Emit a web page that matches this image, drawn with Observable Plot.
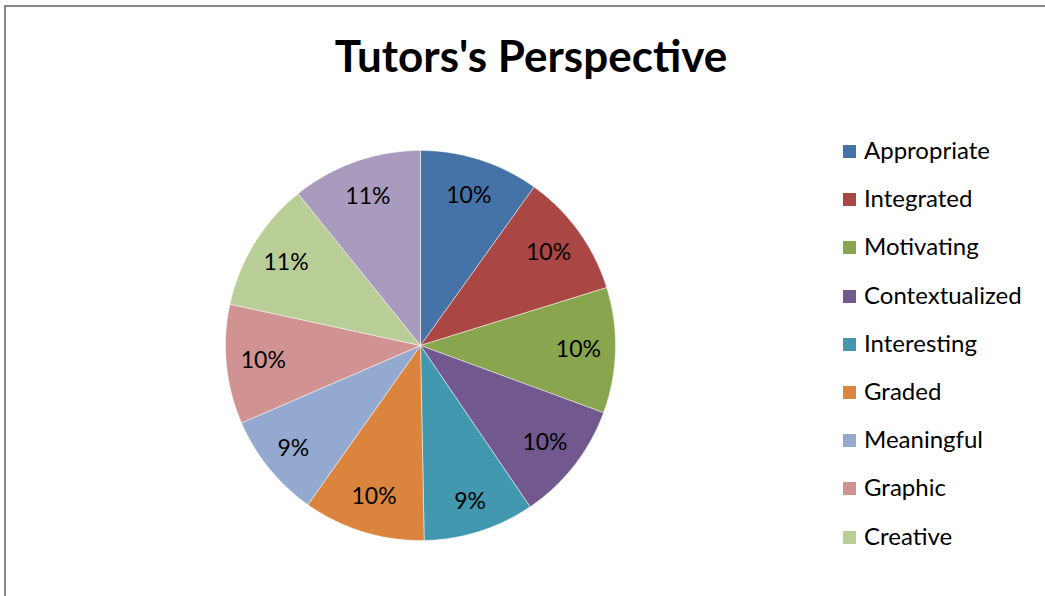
<!DOCTYPE html>
<html>
<head>
<meta charset="utf-8">
<script src="https://cdn.jsdelivr.net/npm/d3@7"></script>
<script src="https://cdn.jsdelivr.net/npm/@observablehq/plot@0.6"></script>
<style>
  html, body { margin: 0; padding: 0; background: #fff; }
  #wrap { position: relative; width: 1045px; height: 596px; overflow: hidden; font-family: Lato, "Open Sans", sans-serif; }
  #frame { position: absolute; left: 4px; top: 5px; width: 1200px; height: 800px; border-left: 2px solid #878787; border-top: 2px solid #878787; }
  #title { position: absolute; left: 0; width: 1062px; top: 29px; text-align: center; font-size: 44px; font-weight: bold; color: #000; }
  #chart { position: absolute; left: 0; top: 0; }
  #legend { position: absolute; left: 843px; top: 135px; }
  .row { height: 48.2px; display: flex; align-items: flex-start; font-size: 24px; color: #000; }
  .sw { width: 13px; height: 13px; margin-top: 10px; margin-right: 8px; }
</style>
</head>
<body>
<div id="wrap">
  <div id="frame"></div>
  <div id="chart"></div>
  <div id="title">Tutors's Perspective</div>
  <div id="legend"></div>
</div>
<script>
const categories = ["Appropriate","Integrated","Motivating","Contextualized","Interesting","Graded","Meaningful","Graphic","Creative","Authentic"];
const values = [9.9, 10.3, 10.4, 9.9, 9.2, 10.1, 8.7, 9.9, 10.8, 10.8];
const colors = ["#4572A7","#AA4643","#89A54E","#71588F","#4198AF","#DB843D","#93A9CF","#D19392","#B9CD96","#A99BBD"];
const legendShown = 9;

const W = 1045, H = 596, CX = 420, CY = 345, R = 195;
const total = d3.sum(values);
const arcs = d3.pie().sort(null).value(d => d)(values);

const pts = [];
const labels = [];
arcs.forEach((a, i) => {
  const name = categories[i];
  pts.push({name, x: 0, y: 0});
  const n = Math.max(2, Math.ceil((a.endAngle - a.startAngle) / 0.01));
  for (let k = 0; k <= n; k++) {
    const t = a.startAngle + (a.endAngle - a.startAngle) * k / n;
    pts.push({name, x: Math.sin(t), y: Math.cos(t)});
  }
  pts.push({name, x: 0, y: 0});
  const m = (a.startAngle + a.endAngle) / 2;
  const txt = Math.round(values[i] / total * 100) + "%";
  const rr = txt.length > 2 ? 0.81 : 0.84;
  labels.push({x: rr * Math.sin(m), y: rr * Math.cos(m), text: txt});
});

const chart = Plot.plot({
  width: W, height: H,
  margin: 0,
  x: {domain: [-CX / R, (W - CX) / R], axis: null},
  y: {domain: [(CY - H) / R, CY / R], axis: null},
  color: {domain: categories, range: colors},
  style: {background: "transparent"},
  marks: [
    Plot.line(pts, {x: "x", y: "y", z: "name", fill: "name", stroke: "#ffffff", strokeOpacity: 0.6, strokeWidth: 0.8, curve: "linear"}),
    Plot.text(labels, {x: "x", y: "y", text: "text", fontSize: 23, fill: "#000", fontFamily: "Lato, 'Open Sans', sans-serif"})
  ]
});
document.getElementById("chart").appendChild(chart);

const lg = document.getElementById("legend");
categories.slice(0, legendShown).forEach((c, i) => {
  const row = document.createElement("div");
  row.className = "row";
  const sw = document.createElement("div");
  sw.className = "sw";
  sw.style.background = colors[i];
  const tx = document.createElement("span");
  tx.textContent = c;
  row.appendChild(sw); row.appendChild(tx);
  lg.appendChild(row);
});
</script>
</body>
</html>
